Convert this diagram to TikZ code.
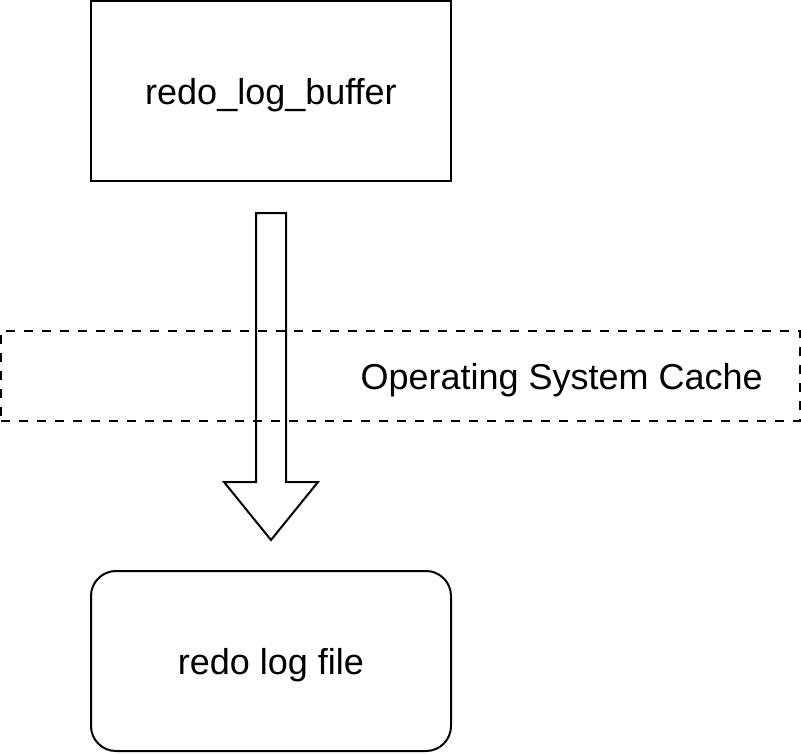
\documentclass[tikz,border=0pt]{standalone}
\usepackage{fontspec}
\setmainfont{Liberation Sans}
\usetikzlibrary{positioning,calc}

\begin{document}
\begin{tikzpicture}[x=1pt, y=-1pt, font=\fontsize{36}{43}\selectfont,
  box/.style={draw=black, line width=2pt, minimum width=360pt, minimum height=180pt, inner sep=0pt, text depth=0pt, align=center},
  cachebox/.style={draw=black, line width=2pt, dash pattern=on 9pt off 9pt, minimum width=799pt, minimum height=90pt, inner sep=0pt},
  blockarrow/.style={draw=black, line width=2pt, line join=miter}]
\useasboundingbox (0,0) rectangle (801,753);
% memory buffer and the file on disk
\node[box] (buffer) at (271,91) {redo\_log\_buffer};
\node[box, rounded corners=25pt] (file) at (271,661) {redo log file};
% os cache band
\node[cachebox] (cache) at (400.5,376) {};
\node[anchor=east, inner sep=0pt, text depth=0pt] (cachelbl) at ($(cache.east)+(-38,0)$) {Operating System Cache};
% write path, buffer -> file
\coordinate (arrtop) at ($(buffer.south)+(0,31)$);
\coordinate (arrtip) at ($(file.north)+(0,-30)$);
\draw[blockarrow] ($(arrtop)+(-15,0)$) -- ($(arrtip)+(-15,-58)$) -- ($(arrtip)+(-47,-58)$) -- (arrtip)
  -- ($(arrtip)+(47,-58)$) -- ($(arrtip)+(15,-58)$) -- ($(arrtop)+(15,0)$) -- cycle;
\end{tikzpicture}
\end{document}
